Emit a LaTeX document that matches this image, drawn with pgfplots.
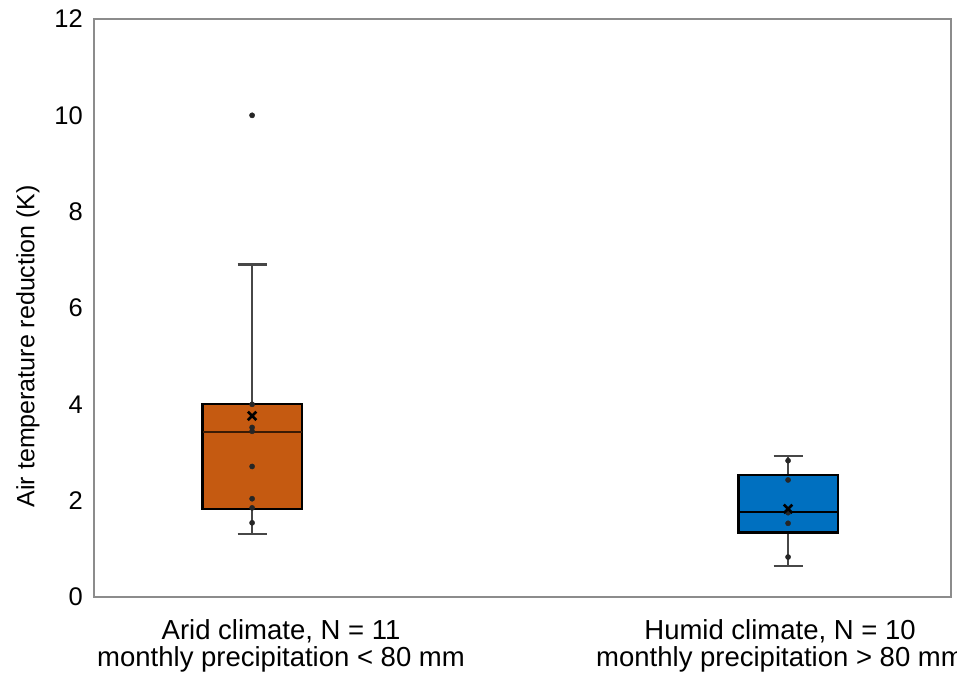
\documentclass[border=0pt]{standalone}
\usepackage{pgfplots}
\pgfplotsset{compat=1.18}
\usepgfplotslibrary{statistics}
\usepackage{fontspec}
\setmainfont{Liberation Sans}
\definecolor{aridc}{HTML}{C55A11}
\definecolor{humidc}{HTML}{0070C0}
\begin{document}
\begin{tikzpicture}
\begin{axis}[
  name=ax,
  scale only axis, width=857pt, height=578pt,
  xmin=0.705, xmax=2.304, ymin=0, ymax=12,
  ytick={0,2,...,12},
  xtick={1.054,1.985},
  xticklabels={{Arid climate, N = 11\\monthly precipitation < 80 mm},{Humid climate, N = 10\\monthly precipitation > 80 mm}},
  major tick length=0pt,
  /pgf/number format/assume math mode=true,
  axis line style={draw=black!45, line width=1.2pt},
  yticklabel style={font=\fontsize{25.5}{25}\selectfont, inner sep=0pt, xshift=-11pt},
  xticklabel style={font=\fontsize{27.5}{27}\selectfont, align=center, inner sep=0pt, yshift=-22pt},
  ylabel={Air temperature reduction (K)},
  every axis y label/.style={at={(axis description cs:-0.077,0.434)}, rotate=90, anchor=center, font=\fontsize{25}{25}\selectfont},
  boxplot/draw direction=y,
  clip=false,
]
\addplot[line width=2.4pt, draw=black!72, boxplot prepared={draw position=1, lower whisker=1.31, lower quartile=1.83, median=3.43, upper quartile=4.01, upper whisker=6.9, box extend=0.185, whisker extend=0.054,
  every box/.style={draw=black, line width=2.2pt, fill=aridc},
  every whisker/.style={draw=black!72, line width=2.4pt},
  every median/.style={draw=black!70!aridc, line width=2.4pt}},
  mark=*, mark size=2.6pt, mark options={fill=black!85, draw=black!85, line width=0.5pt}]
  table[row sep=\\, y index=0] {10\\};
\addplot[only marks, mark=*, mark size=2.6pt, draw=black!85, fill=black!85] coordinates {(1,4.0) (1,3.52) (1,3.44) (1,2.71) (1,2.04) (1,1.85) (1,1.54)};
\addplot[only marks, mark=x, mark size=6pt, line width=2.6pt, black] coordinates {(1,3.76)};
\addplot[line width=2.4pt, draw=black!72, boxplot prepared={draw position=2, lower whisker=0.64, lower quartile=1.34, median=1.77, upper quartile=2.54, upper whisker=2.93, box extend=0.185, whisker extend=0.054,
  every box/.style={draw=black, line width=2.2pt, fill=humidc},
  every whisker/.style={draw=black!72, line width=2.4pt},
  every median/.style={draw=black, line width=2.4pt}},
  mark=*, mark size=2.6pt]
  table[row sep=\\, y index=0] {nan\\};
\addplot[only marks, mark=*, mark size=2.6pt, draw=black!85, fill=black!85] coordinates {(2,2.83) (2,2.43) (2,1.75) (2,1.53) (2,0.83)};
\addplot[only marks, mark=x, mark size=6pt, line width=2.6pt, black] coordinates {(2,1.83)};
\end{axis}
\pgfresetboundingbox
\path[use as bounding box] ([xshift=-94pt,yshift=-82pt]ax.south west) rectangle ++(957pt,679pt);
\end{tikzpicture}
\end{document}
